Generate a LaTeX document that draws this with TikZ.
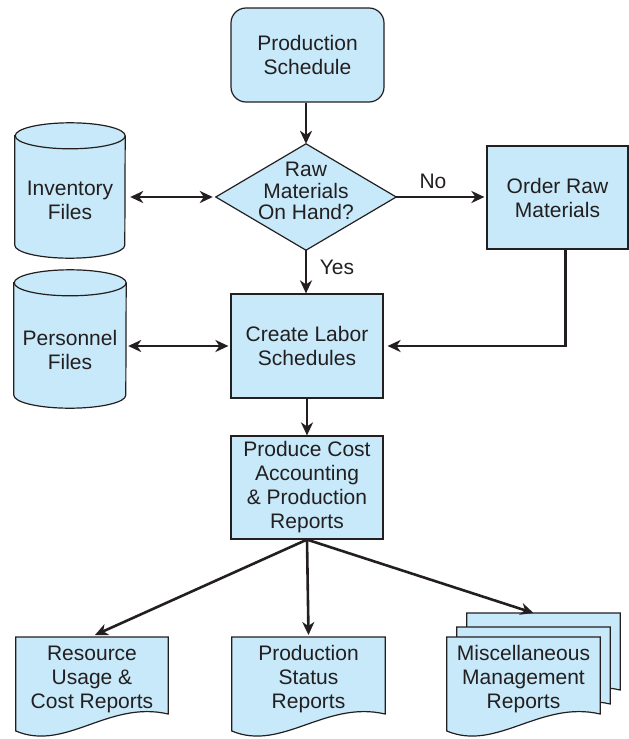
\documentclass[tikz,border=0pt]{standalone}
\usepackage{fontspec}
\setmainfont{Liberation Sans}
\usetikzlibrary{shapes.geometric,arrows.meta,backgrounds,calc}
\definecolor{boxfill}{RGB}{199,233,249}
\definecolor{edge}{RGB}{35,31,32}
% #1 node name, #2 x offset (pt), #3 y offset (pt, up)
\newcommand{\docshape}[3]{\filldraw[boxline] ([xshift=#2pt,yshift=#3pt]#1.north west) -- ([xshift=#2pt,yshift=#3pt]#1.north east) -- ([xshift=#2pt,yshift={#3pt-77pt}]#1.north east) .. controls ([xshift={#2pt-60pt},yshift={#3pt-63pt}]#1.north east) and ([xshift={#2pt+50pt},yshift={#3pt-115pt}]#1.north west) .. ([xshift=#2pt,yshift={#3pt-94pt}]#1.north west) -- cycle;}
\newcommand{\cylshape}[1]{%
  \filldraw[boxline] ([yshift=-13pt]#1.north west) -- ([yshift=13pt]#1.south west)
    arc[start angle=180,end angle=0,x radius=\cylrx,y radius=13] -- ([yshift=-13pt]#1.north east)
    arc[start angle=0,end angle=-180,x radius=\cylrx,y radius=13] -- cycle;
  \draw[boxline,fill=none] ([yshift=-13pt]#1.north east) arc[start angle=0,end angle=180,x radius=\cylrx,y radius=13];}
\begin{document}
\begin{tikzpicture}[x=1pt,y=-1pt,
  txt/.style={font=\fontsize{21}{24}\selectfont, align=center, text=edge},
  boxline/.style={draw=edge, line width=1.2pt, fill=boxfill},
  proc/.style={txt, boxline, rectangle, inner sep=0pt},
  holder/.style={rectangle, inner sep=0pt},
  conn/.style={draw=edge, line width=2.6pt, -{Stealth[length=13pt,width=12pt,inset=4pt]}},
  biconn/.style={draw=edge, line width=2.6pt, {Stealth[length=13pt,width=12pt,inset=4pt]}-{Stealth[length=13pt,width=12pt,inset=4pt]}}
]
\useasboundingbox (0,0) rectangle (629,739);

% process boxes
\node[proc, rounded corners=15pt, minimum width=153pt, minimum height=94pt] (sched) at (307.5,55) {Production\\Schedule};
\node[holder, minimum width=180pt, minimum height=106pt] (dia) at (306,197) {};
\node[txt, font=\fontsize{21}{21.5}\selectfont] (diatext) at (306,191) {Raw\\Materials\\On Hand?};
\node[proc, minimum width=141pt, minimum height=103pt] (order) at (557.5,197.5) {Order Raw\\Materials};
\node[proc, minimum width=152pt, minimum height=104pt] (create) at (307,346) {Create Labor\\Schedules};
\node[proc, minimum width=152pt, minimum height=103pt] (prod) at (307,487.5) {Produce Cost\\Accounting\\\& Production\\Reports};

% files
\node[holder, minimum width=110pt, minimum height=135pt] (inv) at (70,190.5) {};
\node[txt] (invtext) at (70,200) {Inventory\\Files};
\node[holder, minimum width=112pt, minimum height=138pt] (pers) at (70,339) {};
\node[txt] (perstext) at (70,350) {Personnel\\Files};

% documents
\node[txt, holder, minimum width=152pt, minimum height=84pt, anchor=north] (res) at (92,637) {Resource\\Usage \&\\Cost Reports};
\node[txt, holder, minimum width=153pt, minimum height=84pt, anchor=north] (stat) at (308.5,637) {Production\\Status\\Reports};
\node[txt, holder, minimum width=153pt, minimum height=84pt, anchor=north] (misc) at (523.5,637) {Miscellaneous\\Management\\Reports};

\begin{pgfonlayer}{background}
  \filldraw[boxline] (dia.north) -- (dia.east) -- (dia.south) -- (dia.west) -- cycle;
  \def\cylrx{55}
  \cylshape{inv}
  \def\cylrx{56}
  \cylshape{pers}
  \docshape{res}{0}{0}
  \docshape{stat}{0}{0}
  \docshape{misc}{20}{24}
  \docshape{misc}{10}{10}
  \docshape{misc}{0}{0}
\end{pgfonlayer}

% labels
\node[txt] (nolbl) at (433,181) {No};
\node[txt] (yeslbl) at (337,267) {Yes};

% connectors
\draw[conn] (sched.south -| dia.north) -- (dia.north);
\draw[biconn, shorten <=3pt, shorten >=5pt] (dia.west) -- (dia.west -| inv.east);
\draw[conn, shorten >=2pt] (dia.east) -- (dia.east -| order.west);
\draw[conn] (dia.south) -- (dia.south |- create.north);
\draw[conn, shorten >=4pt] ([xshift=8pt]order.south) |- (create.east);
\draw[biconn, shorten <=2pt, shorten >=2pt] (create.west) -- (create.west -| pers.east);
\draw[conn] (create.south) -- (prod.north);
\draw[conn] (prod.south) -- ([xshift=3pt,yshift=2pt]res.north);
\draw[conn] (prod.south) -- ([yshift=2pt]stat.north);
\draw[conn] (prod.south) -- ([xshift=10pt,yshift=24pt]misc.north);
\end{tikzpicture}
\end{document}
